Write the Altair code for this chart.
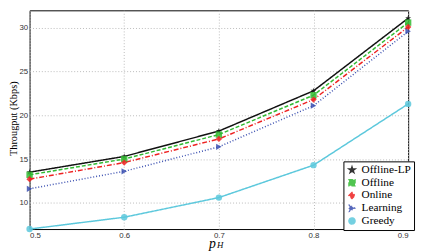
import altair as alt
import pandas as pd

p_h = [0.5, 0.6, 0.7, 0.8, 0.9]
series = ["Offline-LP", "Offline", "Online", "Learning", "Greedy"]
offline_lp = [13.5, 15.3, 18.2, 22.8, 31.1]
offline = [13.2, 15.0, 17.8, 22.3, 30.6]
online = [12.7, 14.6, 17.3, 21.8, 30.1]
learning = [11.6, 13.6, 16.4, 21.1, 29.6]
greedy = [7.0, 8.35, 10.6, 14.3, 21.3]

values = [offline_lp, offline, online, learning, greedy]
rows = []
for name, vals in zip(series, values):
    for x, y in zip(p_h, vals):
        rows.append({"pH": x, "val": y, "Series": name})
df = pd.DataFrame(rows)

colors = ["#111111", "#33bb33", "#ee2222", "#3a4fb0", "#5cc8dc"]
star = "M0,-1L0.22,-0.3L0.95,-0.31L0.36,0.12L0.59,0.81L0,0.38L-0.59,0.81L-0.36,0.12L-0.95,-0.31L-0.22,-0.3Z"
shapes = [star, "square", "diamond", "triangle-right", "circle"]
dashes = [[1, 0], [4, 2], [5, 2, 1, 2], [1, 2], [1, 0]]

leg = alt.Legend(title=None, orient="none", legendX=320, legendY=154,
                 strokeColor="black", fillColor="white", padding=3,
                 cornerRadius=0, labelFont="Liberation Serif", labelFontSize=11.5,
                 labelColor="black", rowPadding=0, symbolSize=38,
                 symbolStrokeWidth=1.5, labelOffset=4)

color = alt.Color("Series:N", scale=alt.Scale(domain=series, range=colors), legend=leg)
shape = alt.Shape("Series:N", scale=alt.Scale(domain=series, range=shapes), legend=leg)
dash = alt.StrokeDash("Series:N", scale=alt.Scale(domain=series, range=dashes), legend=leg)

x = alt.X("pH:Q", scale=alt.Scale(domain=[0.5, 0.9]),
          axis=alt.Axis(values=p_h, format=".1f", title="p", titleFont="Liberation Serif",
                        titleFontStyle="italic", titleFontSize=14, titleFontWeight="normal",
                        titlePadding=-3, titleX=186))
y = alt.Y("val:Q", scale=alt.Scale(domain=[7, 32]),
          axis=alt.Axis(values=[10, 15, 20, 25, 30], title="Througput (Kbps)",
                        titleFont="Liberation Serif", titleFontSize=10.5, titleFontWeight="normal",
                        titleX=-21, titleY=110, titleAngle=-90, titleBaseline="top",
                        labelPadding=2))

base = alt.Chart(df)
lines = base.mark_line(strokeWidth=1.5).encode(x=x, y=y, color=color, strokeDash=dash,
                                                 order=alt.Order("pH:Q"))
points = base.mark_point(filled=True, size=42, opacity=0.85).encode(x=x, y=y, color=color, shape=shape)

sub = alt.Chart(pd.DataFrame({"t": ["H"]})).mark_text(
    font="Liberation Serif", fontStyle="italic", fontSize=9, align="left", baseline="middle"
).encode(text="t:N", x=alt.value(191), y=alt.value(239))

chart = alt.layer(lines, points, sub).properties(
    width=386, height=223,
    autosize=alt.AutoSizeParams(type="none"),
    padding={"left": 22, "top": 0, "right": 8, "bottom": 20},
).configure_view(stroke="black", strokeWidth=1).configure_axis(
    domain=False, ticks=False, labelPadding=3, labelFontSize=8, labelColor="#333333",
    gridDash=[1, 2], gridColor="#bbbbbb", titleColor="black"
)

chart.save("out.html", embed_options={"renderer": "svg", "actions": False})
